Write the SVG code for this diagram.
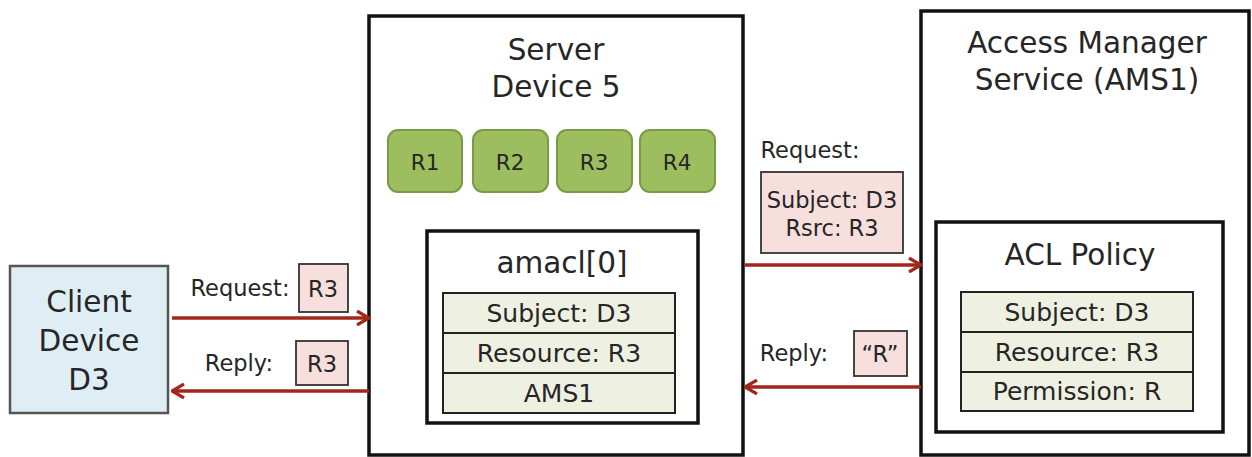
<svg xmlns="http://www.w3.org/2000/svg" width="1252" height="457" viewBox="0 0 1252 457">
<style>
text{font-family:"DejaVu Sans","Liberation Sans",sans-serif;fill:#262626;text-anchor:middle;dominant-baseline:central}
.big{font-size:29.5px}
.mid{font-size:25px}
.lbl{font-size:22.5px}
.sm{font-size:21.5px}
.box{fill:#fff;stroke:#111;stroke-width:3.5}
.row{fill:#eef1e2;stroke:#222;stroke-width:2}
.res{fill:#9dbe5f;stroke:#7a9a48;stroke-width:2}
.pink{fill:#f6dfdc;stroke:#333;stroke-width:1.8}
.arr{stroke:#a3261b;stroke-width:3.5;fill:none}
</style>
<defs>
<marker id="ah" viewBox="0 0 14 16" refX="13" refY="8" markerWidth="14" markerHeight="16" markerUnits="userSpaceOnUse" orient="auto">
<path d="M1,1 L13,8 L1,15" fill="none" stroke="#a3261b" stroke-width="3.2"/>
</marker>
</defs>
<g id="client">
<rect x="10" y="266" width="158" height="147" fill="#dfeef5" stroke="#555" stroke-width="2.5"/>
<text class="big" x="89" y="302">Client</text>
<text class="big" x="89" y="341">Device</text>
<text class="big" x="89" y="380">D3</text>
</g>
<g id="server">
<rect class="box" x="369" y="16" width="374" height="439"/>
<text class="big" x="556" y="50">Server</text>
<text class="big" x="556" y="87">Device 5</text>
<g id="resources">
<rect class="res" x="388" y="130" width="74" height="62" rx="10"/>
<text class="sm" x="425" y="162">R1</text>
<rect class="res" x="473" y="130" width="75" height="62" rx="10"/>
<text class="sm" x="510" y="162">R2</text>
<rect class="res" x="557" y="130" width="75" height="62" rx="10"/>
<text class="sm" x="594" y="162">R3</text>
<rect class="res" x="640" y="130" width="75" height="62" rx="10"/>
<text class="sm" x="677" y="162">R4</text>
</g>
<g id="amacl">
<rect class="box" x="427" y="231" width="271" height="192"/>
<text class="big" x="562" y="263">amacl[0]</text>
<rect class="row" x="443" y="293" width="232" height="40"/>
<rect class="row" x="443" y="333" width="232" height="40"/>
<rect class="row" x="443" y="373" width="232" height="40"/>
<text class="mid" x="559" y="313">Subject: D3</text>
<text class="mid" x="559" y="353">Resource: R3</text>
<text class="mid" x="559" y="393">AMS1</text>
</g>
</g>
<g id="ams">
<rect class="box" x="921" y="11" width="328" height="444"/>
<text class="big" x="1087" y="43">Access Manager</text>
<text class="big" x="1087" y="80">Service (AMS1)</text>
<g id="aclpolicy">
<rect class="box" x="936" y="222" width="287" height="210"/>
<text class="big" x="1080" y="255">ACL Policy</text>
<rect class="row" x="961" y="292" width="232" height="40"/>
<rect class="row" x="961" y="332" width="232" height="40"/>
<rect class="row" x="961" y="372" width="232" height="39"/>
<text class="mid" x="1077" y="312">Subject: D3</text>
<text class="mid" x="1077" y="352">Resource: R3</text>
<text class="mid" x="1077" y="391">Permission: R</text>
</g>
</g>
<g id="connectors">
<line class="arr" x1="172" y1="318" x2="369" y2="318" marker-end="url(#ah)"/>
<line class="arr" x1="369" y1="391" x2="172" y2="391" marker-end="url(#ah)"/>
<line class="arr" x1="745" y1="265" x2="921" y2="265" marker-end="url(#ah)"/>
<line class="arr" x1="921" y1="387" x2="745" y2="387" marker-end="url(#ah)"/>
</g>
<g id="labels">
<text class="lbl" x="240" y="288">Request:</text>
<rect class="pink" x="299" y="264" width="49" height="48"/>
<text class="lbl" x="323" y="289">R3</text>
<text class="lbl" x="239" y="363">Reply:</text>
<rect class="pink" x="296" y="341" width="52" height="44"/>
<text class="lbl" x="322" y="364">R3</text>
<text class="lbl" x="810" y="150">Request:</text>
<rect class="pink" x="761" y="172" width="142" height="81"/>
<text class="lbl" x="832" y="200">Subject: D3</text>
<text class="lbl" x="832" y="228">Rsrc: R3</text>
<text class="lbl" x="794" y="353">Reply:</text>
<rect class="pink" x="854" y="331" width="53" height="45"/>
<text class="lbl" x="880" y="354">“R”</text>
</g>
</svg>
